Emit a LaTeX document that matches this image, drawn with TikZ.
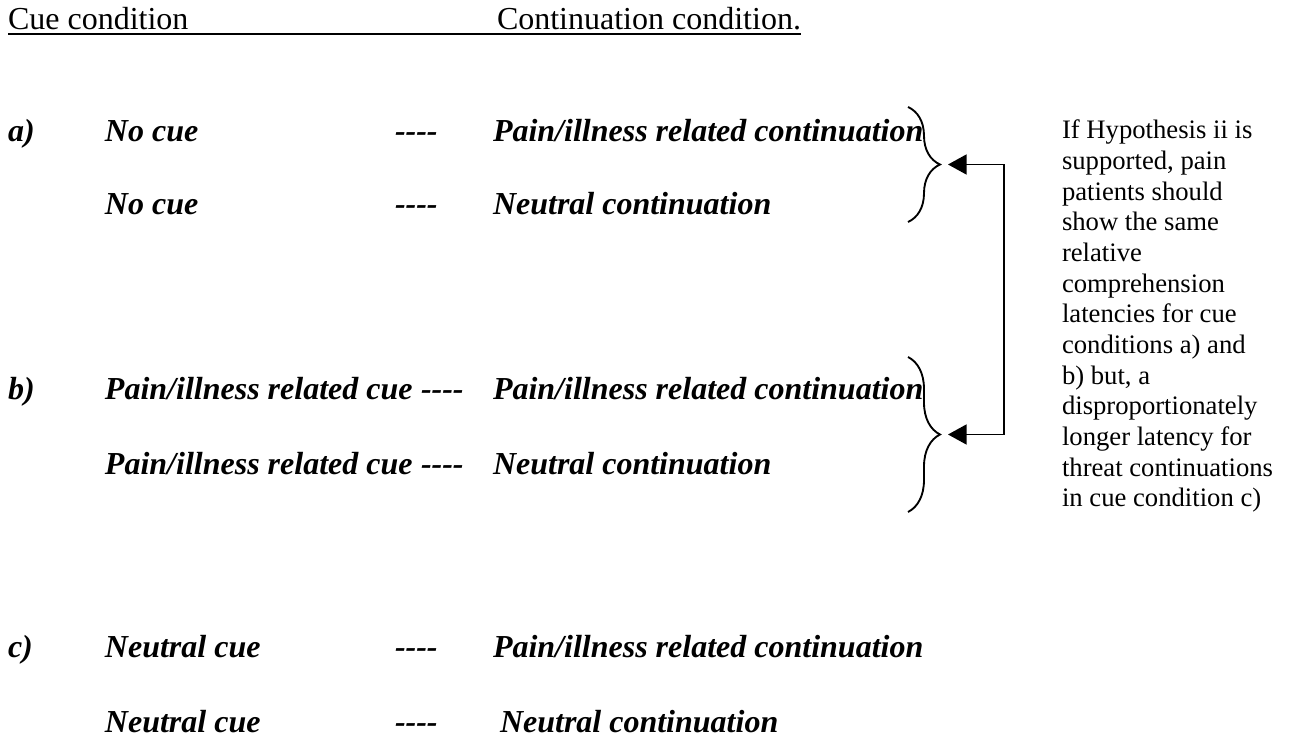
\documentclass[tikz,border=0pt]{standalone}
\usepackage{fontspec}
\setmainfont{Liberation Serif}
\usetikzlibrary{calc}
\usetikzlibrary{arrows.meta}
\usetikzlibrary{decorations.pathreplacing}
\newcommand{\dashes}{-{}-{}-{}-}
\newcommand{\bracereach}{32}
\tikzset{
    common/.style={anchor=base west, inner sep=0pt, outer sep=0pt},
    head/.style={common, font=\fontsize{12}{14}\selectfont},
    cue/.style={common, font=\fontsize{12}{14}\selectfont\bfseries\itshape},
    note/.style={common, align=left, font=\fontsize{10}{11.5}\selectfont},
    brace/.style={decorate, decoration={brace, amplitude=12pt}, line width=0.7pt},
    link/.style={line width=0.7pt, {Triangle[length=7pt, width=7.5pt]}-{Triangle[length=7pt, width=7.5pt]}}
}
\begin{document}
\begin{tikzpicture}[x=0.375pt, y=-0.375pt]
    \useasboundingbox (0,0) rectangle (1294,740);

    % headings
    \path
        (8,30) node[head] (head-cue) {Cue condition}
        ++(489,0) node[head] (head-cont) {Continuation condition.};
    \draw[line width=0.6pt] ([yshift=-1.4pt]head-cue.base west) -- ([yshift=-1.4pt]head-cont.base east);

    % condition a)
    \path
        (8,142) node[cue] (a-tag) {a)}
        ++(97,0) node[cue] (a1-cue) {No cue}
        ++(290,0) node[cue] (a1-dash) {\dashes}
        ++(98,0) node[cue] (a1-cont) {Pain/illness related continuation};
    \path
        (105,215) node[cue] (a2-cue) {No cue}
        ++(290,0) node[cue] (a2-dash) {\dashes}
        ++(98,0) node[cue] (a2-cont) {Neutral continuation};

    % condition b)
    \path
        (8,400) node[cue] (b-tag) {b)}
        ++(97,0) node[cue] (b1-cue) {Pain/illness related cue}
        ++(316,0) node[cue] (b1-dash) {\dashes}
        ++(72,0) node[cue] (b1-cont) {Pain/illness related continuation};
    \path
        (105,475) node[cue] (b2-cue) {Pain/illness related cue}
        ++(316,0) node[cue] (b2-dash) {\dashes}
        ++(72,0) node[cue] (b2-cont) {Neutral continuation};

    % condition c)
    \path
        (8,658) node[cue] (c-tag) {c)}
        ++(97,0) node[cue] (c1-cue) {Neutral cue}
        ++(290,0) node[cue] (c1-dash) {\dashes}
        ++(98,0) node[cue] (c1-cont) {Pain/illness related continuation};
    \path
        (105,733) node[cue] (c2-cue) {Neutral cue}
        ++(290,0) node[cue] (c2-dash) {\dashes}
        ++(105,0) node[cue] (c2-cont) {Neutral continuation};

    % braces
    \coordinate (a-top) at (908,107);
    \coordinate (a-bot) at (908,222);
    \coordinate (b-top) at (908,357);
    \coordinate (b-bot) at (908,512);
    \coordinate (a-tip) at ($(a-top)!0.5!(a-bot) + (\bracereach,0)$);
    \coordinate (b-tip) at ($(b-top)!0.5!(b-bot) + (\bracereach,0)$);
    \coordinate (turn) at (1004,0);
    \draw[brace] (a-top) -- (a-bot);
    \draw[brace] (b-top) -- (b-bot);

    \draw[link] ([xshift=3pt]a-tip) -- (a-tip -| turn) -- (b-tip -| turn) -- ([xshift=3pt]b-tip);

    % base of a multi-line node is its last line
    \node[note] (hyp-note) at (1062,507) {If Hypothesis ii is\\supported, pain\\patients should\\show the same\\relative\\comprehension\\latencies for cue\\conditions a) and\\b) but, a\\disproportionately\\longer latency for\\threat continuations\\in cue condition c)};
\end{tikzpicture}
\end{document}
